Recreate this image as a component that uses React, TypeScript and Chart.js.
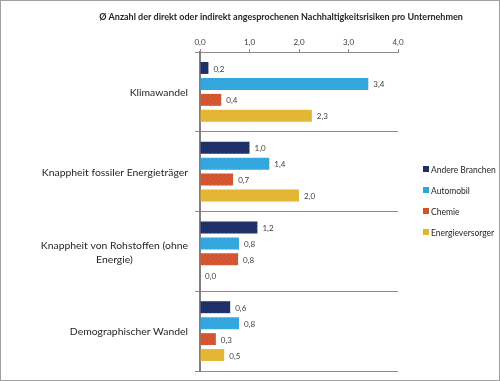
import React, { useEffect, useRef } from "react";
import { Chart, registerables } from "chart.js";

Chart.register(...registerables);

const title = "Ø Anzahl der direkt oder indirekt angesprochenen Nachhaltigkeitsrisiken pro Unternehmen";
const categories: string[][] = [
  ["Klimawandel"],
  ["Knappheit fossiler Energieträger"],
  ["Knappheit von Rohstoffen (ohne", "Energie)"],
  ["Demographischer Wandel"],
];
const seriesNames = ["Andere Branchen", "Automobil", "Chemie", "Energieversorger"];
const andereBranchen = [0.17, 1.0, 1.16, 0.61];
const automobil = [3.4, 1.4, 0.79, 0.79];
const chemie = [0.43, 0.67, 0.77, 0.32];
const energieversorger = [2.26, 2.0, 0.0, 0.49];
const seriesColors = ["#1d2f69", "#2ba6e0", "#d6522b", "#e4b42b"];
const seriesDots = ["#2c3f78", "#47b3e6", "#de6745", "#ecc248"];
const xTicks = [0, 1, 2, 3, 4];

const FONT = "Lato, 'Liberation Sans', sans-serif";

function makePattern(base: string, dot: string): CanvasPattern | string {
  const c = document.createElement("canvas");
  c.width = 4;
  c.height = 4;
  const g = c.getContext("2d");
  if (!g) return base;
  g.fillStyle = base;
  g.fillRect(0, 0, 4, 4);
  g.fillStyle = dot;
  g.fillRect(0, 0, 1, 1);
  g.fillRect(2, 2, 1, 1);
  const p = g.createPattern(c, "repeat");
  return p || base;
}

const fmt = (v: number) => v.toFixed(1).replace(".", ",");

export default function App() {
  const ref = useRef<HTMLCanvasElement>(null);

  useEffect(() => {
    document.body.style.margin = "0";
    const canvas = ref.current;
    if (!canvas) return;
    const values = [andereBranchen, automobil, chemie, energieversorger];

    const decor = {
      id: "decor",
      afterDatasetsDraw(chart: any) {
        const ctx = chart.ctx;
        ctx.save();
        // data labels
        ctx.font = `8px ${FONT}`;
        ctx.fillStyle = "#404040";
        ctx.textAlign = "left";
        ctx.textBaseline = "middle";
        chart.data.datasets.forEach((ds: any, i: number) => {
          const meta = chart.getDatasetMeta(i);
          meta.data.forEach((el: any, j: number) => {
            ctx.fillText(fmt(ds.data[j]), el.x + 5, el.y + 1);
          });
        });
        // category labels
        const y = chart.scales.y;
        ctx.font = `10.4px ${FONT}`;
        ctx.fillStyle = "#262626";
        categories.forEach((lines, i) => {
          const cy = y.getPixelForValue(i);
          const w = Math.max(...lines.map((l) => ctx.measureText(l).width));
          const right = 188;
          const cx = right - w / 2;
          const lh = 14;
          ctx.textAlign = "center";
          lines.forEach((l, k) => {
            ctx.fillText(l, cx, cy + 1 + (k - (lines.length - 1) / 2) * lh);
          });
        });
        // title
        ctx.font = `bold 9px ${FONT}`;
        ctx.fillStyle = "#262626";
        ctx.textAlign = "center";
        ctx.fillText(title, 281, 17);
        // legend
        ctx.font = `8.5px ${FONT}`;
        ctx.textAlign = "left";
        seriesNames.forEach((n, i) => {
          const ly = 169 + i * 21;
          ctx.fillStyle = seriesColors[i];
          ctx.fillRect(423, ly - 3, 6, 6);
          ctx.fillStyle = "#262626";
          ctx.fillText(n, 431, ly + 1);
        });
        // outer border
        ctx.strokeStyle = "#a0a0a0";
        ctx.lineWidth = 1;
        ctx.strokeRect(0.5, 0.5, chart.width - 1, chart.height - 1);
        ctx.restore();
      },
    };

    const chart = new Chart(canvas, {
      type: "bar",
      data: {
        labels: categories.map((c) => c.join(" ")),
        datasets: seriesNames.map((n, i) => ({
          label: n,
          data: values[i],
          backgroundColor: makePattern(seriesColors[i], seriesDots[i]) as any,
          borderWidth: 0,
          categoryPercentage: 0.8,
          barPercentage: 0.75,
        })),
      },
      options: {
        indexAxis: "y",
        animation: false,
        responsive: false,
        maintainAspectRatio: false,
        layout: { padding: { left: 0, top: 0, right: 102, bottom: 10 } },
        plugins: {
          legend: { display: false },
          tooltip: { enabled: false },
          title: { display: false },
        },
        scales: {
          x: {
            position: "top",
            min: 0,
            max: 4,
            afterBuildTicks: (s: any) => {
              s.ticks = xTicks.map((v) => ({ value: v }));
            },
            afterFit: (s: any) => {
              s.height = 52;
            },
            ticks: {
              font: { size: 8, family: FONT },
              color: "#404040",
              padding: 2,
              callback: (v: any) => fmt(Number(v)),
            },
            grid: {
              display: true,
              drawOnChartArea: false,
              drawTicks: true,
              tickLength: 3,
              color: "#8c8c8c",
            },
            border: { display: true, color: "#8c8c8c", width: 1 },
          },
          y: {
            type: "category",
            afterFit: (s: any) => {
              s.width = 200;
            },
            ticks: { display: false },
            grid: {
              display: true,
              offset: true,
              drawOnChartArea: true,
              drawTicks: true,
              tickLength: 5,
              color: "#8c8c8c",
              lineWidth: 1,
            },
            border: { display: true, color: "#7f7f7f", width: 2 },
          },
        },
      },
      plugins: [decor],
    });
    return () => chart.destroy();
  }, []);

  return (
    <div style={{ position: "absolute", left: 0, top: 0, width: 500, height: 381 }}>
      <canvas ref={ref} width={500} height={381} style={{ width: 500, height: 381 }} />
    </div>
  );
}
